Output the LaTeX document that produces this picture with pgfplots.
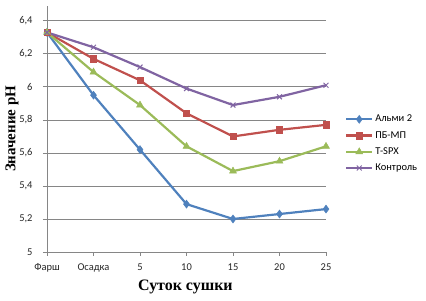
\documentclass[border=0pt]{standalone}
\usepackage{fontspec}
\setmainfont{Liberation Serif}
\newfontfamily\calib{Carlito}
\usepackage{pgfplots}
\pgfplotsset{compat=1.18}
\definecolor{cA}{HTML}{4F81BD}
\definecolor{cB}{HTML}{C0504D}
\definecolor{cC}{HTML}{9BBB59}
\definecolor{cD}{HTML}{8064A2}
\definecolor{gr}{HTML}{868686}
\begin{document}
\begin{tikzpicture}[x=1bp,y=1bp]
\path[use as bounding box] (0,0) rectangle (426,301);
\begin{axis}[
  at={(47bp,49bp)}, anchor=south west,
  scale only axis, width=279bp, height=246bp,
  xmin=0, xmax=6, ymin=5, ymax=6.49,
  xtick={0,...,6},
  xticklabels={Фарш,Осадка,5,10,15,20,25},
  ytick={5,5.2,5.4,5.6,5.8,6,6.2,6.4},
  /pgf/number format/use comma,
  /pgf/number format/assume math mode=true,
  ticklabel style={font=\calib\fontsize{10.5}{12}\selectfont, text=black!85},
  xticklabel style={yshift=-4bp},
  yticklabel style={xshift=-7bp},
  axis x line*=bottom, axis y line*=left,
  axis line style={gr, line width=0.8pt, -},
  ymajorgrids, grid style={gr, line width=0.8pt},
  tick style={gr, line width=0.8pt},
  xtick align=outside, ytick align=outside,
  major tick length=4bp,
  xlabel={\bfseries Суток сушки},
  ylabel={\bfseries Значение pH},
  xlabel style={font=\fontsize{16}{18}\selectfont, at={(axis description cs:0.496,-0.142)}, anchor=center},
  ylabel style={font=\fontsize{15}{17}\selectfont, at={(axis description cs:-0.125,0.5)}, anchor=center},
  legend style={draw=none, fill=none, at={(1.068,0.565)}, anchor=north west,
    font=\calib\fontsize{10.5}{12}\selectfont, row sep=4bp, inner sep=0pt,
    /tikz/every even column/.append style={column sep=0pt}},
  legend cell align=left,
  legend image code/.code={\draw[mark repeat=2,mark phase=2,#1] plot coordinates {(0bp,0bp)(13bp,0bp)(26bp,0bp)};},
  every axis plot/.append style={line width=2.2pt},
]
\addplot[cA, mark=diamond*, mark size=4pt, mark options={solid, line width=0.5pt}] coordinates {(0,6.33)(1,5.95)(2,5.62)(3,5.29)(4,5.20)(5,5.23)(6,5.26)};
\addlegendentry{Альми 2}
\addplot[cB, mark=square*, mark size=3.2pt, mark options={line width=0.5pt}] coordinates {(0,6.33)(1,6.17)(2,6.04)(3,5.84)(4,5.70)(5,5.74)(6,5.77)};
\addlegendentry{ПБ-МП}
\addplot[cC, mark=triangle*, mark size=4pt, mark options={line width=0.5pt}] coordinates {(0,6.33)(1,6.09)(2,5.89)(3,5.64)(4,5.49)(5,5.55)(6,5.64)};
\addlegendentry{Т-SPX}
\addplot[cD, mark=x, mark size=3.5pt, mark options={line width=1pt}] coordinates {(0,6.33)(1,6.24)(2,6.12)(3,5.99)(4,5.89)(5,5.94)(6,6.01)};
\addlegendentry{Контроль}
\end{axis}
\end{tikzpicture}
\end{document}
